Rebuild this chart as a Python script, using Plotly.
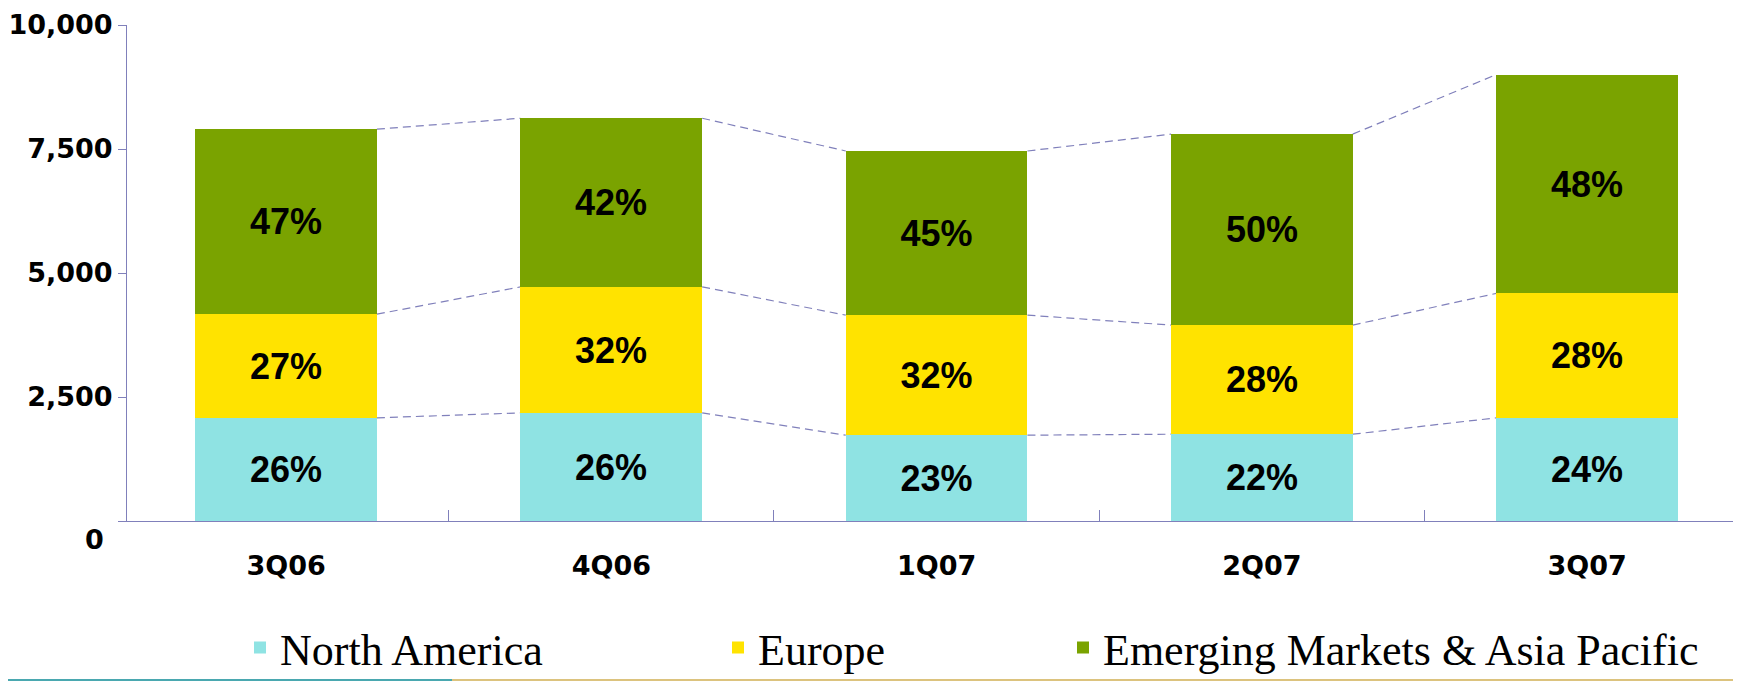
import plotly.graph_objects as go

# ---- data ----
quarters = ['3Q06', '4Q06', '1Q07', '2Q07', '3Q07']
north_america = [2080, 2180, 1730, 1750, 2080]
europe = [2090, 2540, 2420, 2200, 2510]
emerging = [3730, 3400, 3310, 3850, 4410]
na_labels = ['26%', '26%', '23%', '22%', '24%']
eu_labels = ['27%', '32%', '32%', '28%', '28%']
em_labels = ['47%', '42%', '45%', '50%', '48%']
y_tick_values = [0, 2500, 5000, 7500, 10000]
y_tick_labels = ['0', '2,500', '5,000', '7,500', '10,000']
series_names = ['North America', 'Europe', 'Emerging Markets & Asia Pacific']

# ---- styling ----
BAR_W = 0.5586
AXIS_COLOR = '#8080bb'
TICK_FONT = dict(family='DejaVu Sans', size=27, color='black', weight='bold')
LABEL_FONT = dict(family='Liberation Sans', size=36, color='black', weight='bold')
LEGEND_FONT = dict(family='Liberation Serif', size=44, color='black')
colors = ['#8fe3e3', '#ffe300', '#7aa300']
PLOT_W = 1614.0
PLOT_H = 496.0

fig = go.Figure()
series = [north_america, europe, emerging]
labels = [na_labels, eu_labels, em_labels]
legends = ['legend', 'legend2', 'legend3']
for vals, labs, name, col, lg in zip(series, labels, series_names, colors, legends):
    fig.add_trace(go.Bar(
        x=quarters, y=vals, name=name, width=BAR_W,
        marker=dict(color=col, line=dict(width=0)),
        text=labs, textposition='inside', insidetextanchor='middle',
        textangle=0, textfont=LABEL_FONT, legend=lg,
    ))

# dashed connectors between the tops of each stacked level
levels = []
running = [0] * len(quarters)
for vals in series:
    running = [r + v for r, v in zip(running, vals)]
    levels.append(list(running))
shapes = []
for lev in levels:
    for i in range(len(quarters) - 1):
        shapes.append(dict(
            type='line', xref='x', yref='y',
            x0=i + BAR_W / 2, y0=lev[i], x1=i + 1 - BAR_W / 2, y1=lev[i + 1],
            line=dict(color=AXIS_COLOR, width=1.2, dash='8px,5px'), layer='below',
        ))
# slide footer lines
fy = -159 / PLOT_H
shapes.append(dict(type='line', xref='paper', yref='paper', x0=-127 / PLOT_W, x1=(452 - 127) / PLOT_W,
                   y0=fy, y1=fy, line=dict(color='#4aa8b0', width=2)))
shapes.append(dict(type='line', xref='paper', yref='paper', x0=(452 - 127) / PLOT_W, x1=1,
                   y0=fy, y1=fy, line=dict(color='#dcc37e', width=2)))

legend_common = dict(orientation='h', font=LEGEND_FONT, bgcolor='rgba(0,0,0,0)',
                     yanchor='middle', y=-0.256, xanchor='left')

fig.update_layout(
    width=1733, height=673,
    margin=dict(l=119, r=0, t=17, b=160, autoexpand=False),
    paper_bgcolor='white', plot_bgcolor='white',
    barmode='stack', bargap=0,
    showlegend=True,
    legend=dict(x=(240 - 127) / PLOT_W, **legend_common),
    legend2=dict(x=(718 - 127) / PLOT_W, **legend_common),
    legend3=dict(x=(1063 - 127) / PLOT_W, **legend_common),
    xaxis=dict(
        type='category', range=[-0.489, 4.473],
        showline=True, linecolor=AXIS_COLOR, linewidth=1,
        ticks='inside', tickson='boundaries', ticklen=11, tickcolor=AXIS_COLOR,
        tickfont=TICK_FONT, ticklabelstandoff=21, showgrid=False,
    ),
    yaxis=dict(
        range=[0, 10000], tickvals=y_tick_values,
        ticktext=[''] + y_tick_labels[1:],
        showline=True, linecolor=AXIS_COLOR, linewidth=1,
        ticks='outside', ticklen=8, tickcolor=AXIS_COLOR,
        tickfont=TICK_FONT, showgrid=False, zeroline=False,
    ),
    shapes=shapes,
    annotations=[dict(
        text=y_tick_labels[0], xref='paper', yref='y', x=0, y=y_tick_values[0],
        xanchor='right', yanchor='middle', xshift=-21, yshift=-18,
        showarrow=False, font=TICK_FONT,
    )],
)

fig.write_html('out.html')
